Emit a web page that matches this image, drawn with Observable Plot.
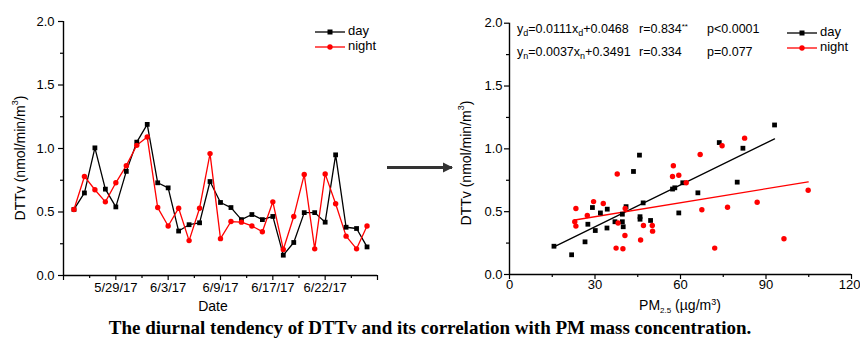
<!DOCTYPE html>
<html><head><meta charset="utf-8">
<script src="https://cdn.jsdelivr.net/npm/d3@7"></script>
<script src="https://cdn.jsdelivr.net/npm/@observablehq/plot@0.6"></script>
<style>
body{margin:0;background:#fff;}
#wrap{position:relative;width:860px;height:339px;overflow:hidden;font-family:Arial,"Liberation Sans",sans-serif;background:#fff;}
#left{position:absolute;left:0;top:0;}
#right{position:absolute;left:430px;top:0;}
#overlay{position:absolute;left:0;top:0;}
#caption{position:absolute;left:0;width:860px;top:318px;text-align:center;font:bold 19px "Times New Roman","Liberation Serif",serif;line-height:20px;color:#000;white-space:nowrap;}
</style></head><body>
<div id="wrap">
  <div id="left"></div>
  <div id="right"></div>
  <svg id="overlay" width="860" height="339"></svg>
  <div id="caption">The diurnal tendency of DTTv and its correlation with PM mass concentration.</div>
</div>
<script>
// ---- Data: time series (sample index 1..29) ----
const sampleIndex = [1,2,3,4,5,6,7,8,9,10,11,12,13,14,15,16,17,18,19,20,21,22,23,24,25,26,27,28,29];
const dayDTTv   = [0.52,0.65,1.005,0.68,0.54,0.82,1.05,1.19,0.73,0.69,0.35,0.40,0.415,0.74,0.575,0.535,0.44,0.48,0.44,0.465,0.16,0.26,0.495,0.495,0.42,0.95,0.38,0.37,0.225];
const nightDTTv = [0.52,0.78,0.675,0.58,0.73,0.865,1.025,1.09,0.535,0.39,0.53,0.275,0.53,0.96,0.29,0.425,0.42,0.39,0.345,0.58,0.205,0.465,0.795,0.21,0.80,0.565,0.31,0.21,0.39];
const dateTickValues = [5,10,15,20,25];
const dateTickLabels = ["5/29/17","6/3/17","6/9/17","6/17/17","6/22/17"];

// ---- Data: scatter vs PM2.5 ----
const dayPM   = [15.6,21.8,26.5,27.5,29.1,30.1,31.9,34.3,34.2,37.0,39.6,39.6,39.9,40.9,43.5,45.6,45.8,45.8,46.9,49.5,57.2,58.0,59.4,60.8,66.1,73.6,79.9,81.9,93.0];
const dayScatterDTTv = [0.225,0.157,0.26,0.40,0.533,0.35,0.49,0.52,0.37,0.42,0.48,0.42,0.38,0.54,0.82,0.95,0.46,0.44,0.57,0.43,0.68,0.69,0.49,0.73,0.65,1.05,0.735,1.005,1.19];
const nightPM = [22.9,23.3,23.3,27.3,29.5,32.9,37.8,37.4,38.1,39.8,40.5,40.6,46.0,47.0,50.1,50.2,57.2,57.5,59.4,62.0,66.9,67.5,72.0,74.6,76.5,82.5,86.9,96.3,104.8];
const nightScatterDTTv = [0.42,0.525,0.385,0.47,0.58,0.565,0.80,0.21,0.41,0.205,0.31,0.525,0.275,0.39,0.39,0.345,0.78,0.865,0.79,0.73,0.955,0.515,0.21,1.025,0.535,1.085,0.575,0.285,0.67];
const fitSlope = [0.0111, 0.0037];      // day, night
const fitIntercept = [0.0468, 0.3491];  // day, night
const yTicks = [0,0.5,1,1.5,2];
const yMinor = [0.25,0.75,1.25,1.75];
const pmTicks = [0,30,60,90,120];
const pmMinor = [15,45,75,105];

const RED = "#ff0000";
const fmt1 = d3.format(".1f");

const ts = sampleIndex.map((i,k)=>({i, day: dayDTTv[k], night: nightDTTv[k]}));
const dayPts = dayPM.map((x,k)=>({x, y: dayScatterDTTv[k]}));
const nightPts = nightPM.map((x,k)=>({x, y: nightScatterDTTv[k]}));
const fitLines = [
  {series:"day", pts: d3.extent(dayPM).map(x=>({x, y: fitSlope[0]*x+fitIntercept[0]}))},
  {series:"night", pts: d3.extent(nightPM).map(x=>({x, y: fitSlope[1]*x+fitIntercept[1]}))}
];

const baseStyle = {fontFamily:"Arial, 'Liberation Sans', sans-serif", fontSize:"13px", color:"#000", background:"transparent", overflow:"visible"};

// ---- Left chart ----
const left = Plot.plot({
  width: 390, height: 300,
  marginLeft: 63, marginRight: 13, marginTop: 21, marginBottom: 25,
  style: baseStyle,
  x: {domain:[0,30], axis:null},
  y: {domain:[0,2], axis:null},
  marks: [
    Plot.axisY({ticks: yTicks, tickFormat: fmt1, tickSize: 5, tickPadding: 4, label: null, strokeWidth: 1.2}),
    Plot.axisY({ticks: yMinor, tickFormat: () => "", tickSize: 3, label: null, strokeWidth: 1.2}),
    Plot.axisX({ticks: [0,5,10,15,20,25,30], tickFormat: d => {const j = dateTickValues.indexOf(d); return j >= 0 ? dateTickLabels[j] : "";}, tickSize: 5, tickPadding: 2, label: null, strokeWidth: 1.2}),
    Plot.axisX({ticks: [2.5,7.5,12.5,17.5,22.5,27.5], tickFormat: () => "", tickSize: 3, label: null, strokeWidth: 1.2}),
    Plot.ruleX([0], {strokeWidth: 1.4}),
    Plot.ruleY([0], {strokeWidth: 1.4}),
    Plot.line(ts, {x:"i", y:"day", stroke:"#000", strokeWidth:1.3}),
    Plot.line(ts, {x:"i", y:"night", stroke:RED, strokeWidth:1.3}),
    Plot.dot(ts, {x:"i", y:"day", symbol:"square", r:2.7, fill:"#000", stroke:"none"}),
    Plot.dot(ts, {x:"i", y:"night", symbol:"circle", r:2.7, fill:RED, stroke:"none"})
  ]
});
document.getElementById("left").appendChild(left);

// ---- Right chart ----
const pmLast = pmTicks[pmTicks.length - 1];
const right = Plot.plot({
  width: 430, height: 300,
  marginLeft: 79, marginRight: 9, marginTop: 22.7, marginBottom: 26,
  style: baseStyle,
  x: {domain:[0,120], axis:null},
  y: {domain:[0,2], axis:null},
  marks: [
    Plot.axisY({ticks: yTicks, tickFormat: fmt1, tickSize: 5, tickPadding: 2, label: null, strokeWidth: 1.2}),
    Plot.axisY({ticks: yMinor, tickFormat: () => "", tickSize: 3, label: null, strokeWidth: 1.2}),
    Plot.axisX({ticks: pmTicks, tickFormat: d => d === pmLast ? "" : String(d), tickSize: 5, tickPadding: 0, label: null, strokeWidth: 1.2}),
    Plot.axisX({ticks: [pmLast], tickFormat: d => String(d), tickSize: 0, tickPadding: 5, textAnchor: "end", dx: 9, label: null}),
    Plot.axisX({ticks: pmMinor, tickFormat: () => "", tickSize: 3, label: null, strokeWidth: 1.2}),
    Plot.ruleX([0], {strokeWidth: 1.4}),
    Plot.ruleY([0], {strokeWidth: 1.4}),
    Plot.line(fitLines[0].pts, {x:"x", y:"y", stroke:"#000", strokeWidth:1.3}),
    Plot.line(fitLines[1].pts, {x:"x", y:"y", stroke:RED, strokeWidth:1.3}),
    Plot.dot(dayPts, {x:"x", y:"y", symbol:"square", r:2.7, fill:"#000", stroke:"none"}),
    Plot.dot(nightPts, {x:"x", y:"y", symbol:"circle", r:2.7, fill:RED, stroke:"none"})
  ]
});
document.getElementById("right").appendChild(right);

// ---- Overlay: labels, legends, arrow, equations ----
const ov = d3.select("#overlay");
const defs = ov.append("defs");
defs.append("marker").attr("id","ah").attr("viewBox","0 0 10 10").attr("refX",9).attr("refY",5)
  .attr("markerWidth",3.2).attr("markerHeight",3.2).attr("orient","auto")
  .append("path").attr("d","M0,0 L10,5 L0,10 z").attr("fill","#333");
ov.append("line").attr("x1",387).attr("y1",167.5).attr("x2",452).attr("y2",167.5)
  .attr("stroke","#333").attr("stroke-width",3.2).attr("marker-end","url(#ah)");

const font = "Arial, 'Liberation Sans', sans-serif";
function ylabel(cx, cy){
  const t = ov.append("text").attr("transform",`translate(${cx},${cy}) rotate(-90)`)
    .attr("text-anchor","middle").attr("dominant-baseline","middle")
    .attr("font-family",font).attr("font-size",14).attr("fill","#000");
  t.append("tspan").text("DTTv (nmol/min/m");
  t.append("tspan").attr("font-size",9).attr("dy",-5).text("3");
  t.append("tspan").attr("dy",5).text(")");
}
ylabel(21, 158);
ylabel(467, 163);

ov.append("text").attr("x",213).attr("y",311).attr("text-anchor","middle")
  .attr("font-family",font).attr("font-size",14).attr("fill","#000").text("Date");

const pm = ov.append("text").attr("x",680).attr("y",310).attr("text-anchor","middle")
  .attr("font-family",font).attr("font-size",14).attr("fill","#000");
pm.append("tspan").text("PM");
pm.append("tspan").attr("font-size",8).attr("dy",3).text("2.5");
pm.append("tspan").attr("dy",-3).text(" (µg/m");
pm.append("tspan").attr("font-size",9).attr("dy",-5).text("3");
pm.append("tspan").attr("dy",5).text(")");

function legend(x0, y0){
  const rows = [{name:"day", color:"#000", sym:"square"},{name:"night", color:RED, sym:"circle"}];
  rows.forEach((r,k)=>{
    const y = y0 + k*15;
    ov.append("line").attr("x1",x0).attr("x2",x0+30).attr("y1",y).attr("y2",y).attr("stroke",r.color).attr("stroke-width",1.3);
    if (r.sym === "square") ov.append("rect").attr("x",x0+12.5).attr("y",y-2.5).attr("width",5).attr("height",5).attr("fill",r.color);
    else ov.append("circle").attr("cx",x0+15).attr("cy",y).attr("r",2.7).attr("fill",r.color);
    ov.append("text").attr("x",x0+33).attr("y",y).attr("dominant-baseline","middle")
      .attr("font-family",font).attr("font-size",13).attr("fill","#000").text(r.name);
  });
}
legend(315, 32);
legend(787, 33);

function eq(y, sub, slope, icpt, r, p){
  const t = ov.append("text").attr("x",517).attr("y",y).attr("font-family",font).attr("font-size",12.5).attr("fill","#000");
  t.append("tspan").text("y");
  t.append("tspan").attr("font-size",9).attr("dy",3).text(sub);
  t.append("tspan").attr("dy",-3).text("=" + slope + "x");
  t.append("tspan").attr("font-size",9).attr("dy",3).text(sub);
  t.append("tspan").attr("dy",-3).text(icpt);
  ov.append("text").attr("x",639).attr("y",y).attr("font-family",font).attr("font-size",12.5).attr("fill","#000").html(r);
  ov.append("text").attr("x",707).attr("y",y).attr("font-family",font).attr("font-size",12.5).attr("fill","#000").text(p);
}
eq(33, "d", "0.0111", "+0.0468", 'r=0.834<tspan font-size="8" dy="-4">**</tspan>', "p<0.0001");
eq(56, "n", "0.0037", "+0.3491", "r=0.334", "p=0.077");
</script>
</body></html>
